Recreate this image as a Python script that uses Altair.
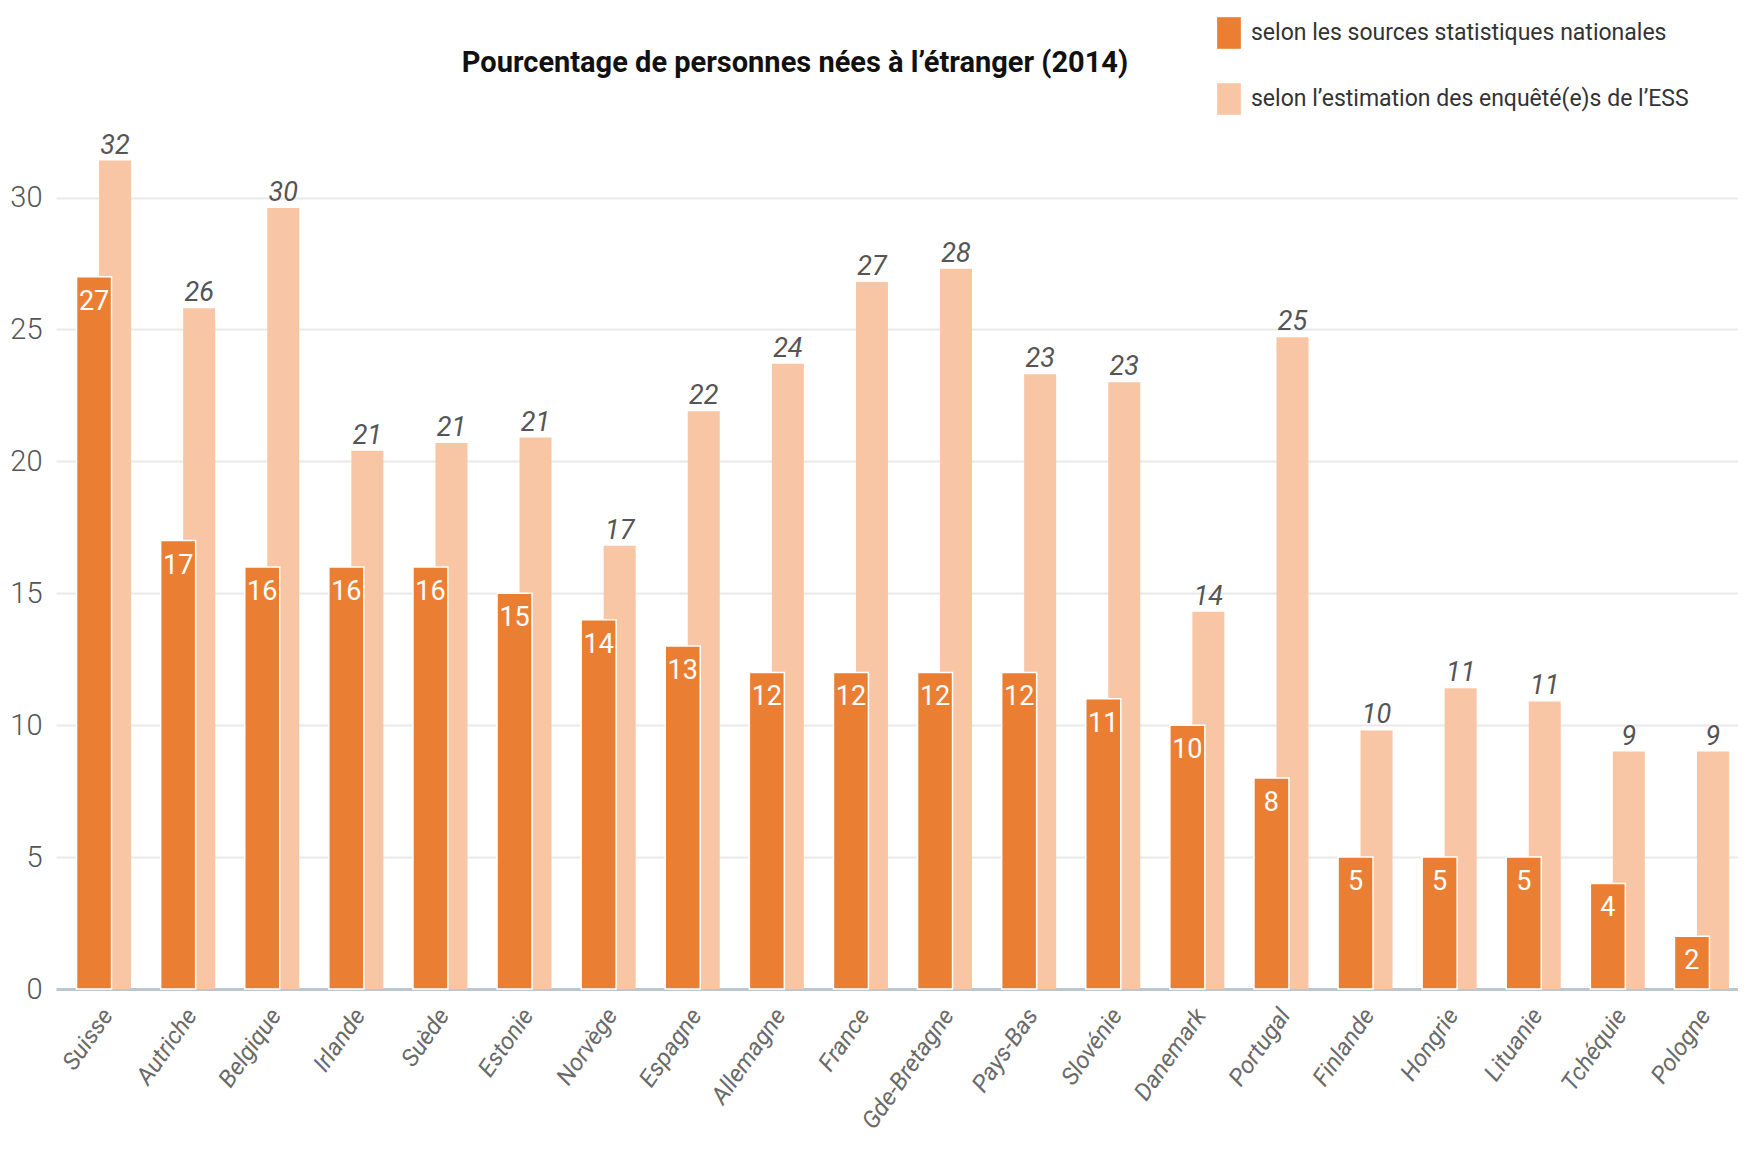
import altair as alt
import pandas as pd

pays = ["Suisse", "Autriche", "Belgique", "Irlande", "Suède", "Estonie", "Norvège",
        "Espagne", "Allemagne", "France", "Gde-Bretagne", "Pays-Bas", "Slovénie",
        "Danemark", "Portugal", "Finlande", "Hongrie", "Lituanie", "Tchéquie", "Pologne"]
nationales = [27, 17, 16, 16, 16, 15, 14, 13, 12, 12, 12, 12, 11, 10, 8, 5, 5, 5, 4, 2]
nat_labels = ["27", "17", "16", "16", "16", "15", "14", "13", "12", "12", "12", "12",
              "11", "10", "8", "5", "5", "5", "4", "2"]
ess = [31.4, 25.8, 29.6, 20.4, 20.7, 20.9, 16.8, 21.9, 23.7, 26.8, 27.3, 23.3, 23.0,
       14.3, 24.7, 9.8, 11.4, 10.9, 9.0, 9.0]
ess_labels = ["32", "26", "30", "21", "21", "21", "17", "22", "24", "27", "28", "23",
              "23", "14", "25", "10", "11", "11", "9", "9"]
y_ticks = [0, 5, 10, 15, 20, 25, 30]

serie_nat = "selon les sources statistiques nationales"
serie_ess = "selon l’estimation des enquêté(e)s de l’ESS"
titre = ["Pourcentage de personnes nées à l’étranger (2014)"]

DARK = "#EA7F33"
LIGHT = "#F8C6A5"
FONT = "Roboto, 'Liberation Sans', sans-serif"

rows = []
for p, v, l in zip(pays, nationales, nat_labels):
    rows.append({"pays": p, "serie": serie_nat, "valeur": v, "label": l})
for p, v, l in zip(pays, ess, ess_labels):
    rows.append({"pays": p, "serie": serie_ess, "valeur": v, "label": l})
df = pd.DataFrame(rows)

x = alt.X("pays:N", sort=pays,
          scale=alt.Scale(paddingInner=0, paddingOuter=0),
          axis=alt.Axis(title=None, labelAngle=-55, labelAlign="right",
                        labelBaseline="middle", labelFontSize=24,
                        labelFontStyle="italic", labelColor="#6a6a6a",
                        labelFont=FONT, labelPadding=22, labelOffset=10,
                        ticks=False, domainColor="#BCC6CF", domainWidth=3))
y = alt.Y("valeur:Q",
          scale=alt.Scale(domain=[0, 34], nice=False),
          axis=alt.Axis(title=None, values=y_ticks, domain=False, ticks=False,
                        gridColor="#E9E9E9", gridWidth=2, labelFontSize=29,
                        labelColor="#555555", labelFont=FONT, labelPadding=14,
                        labelFontWeight=300))
color = alt.Color("serie:N",
                  scale=alt.Scale(domain=[serie_nat, serie_ess], range=[DARK, LIGHT]),
                  legend=alt.Legend(title=None, orient="none", legendX=1157, legendY=-75,
                                    symbolType="M-0.75,-1H0.75V1H-0.75Z",
                                    symbolSize=1000, symbolStrokeWidth=0,
                                    labelFontSize=23, labelFont=FONT,
                                    labelColor="#333333", rowPadding=34,
                                    symbolOffset=0, labelOffset=6,
                                    labelLimit=600))

base = alt.Chart(df)

light_bars = base.transform_filter(alt.datum.serie == serie_ess).mark_bar(
    size=32, xOffset=17).encode(x=x, y=y, color=color)
dark_bars = base.transform_filter(alt.datum.serie == serie_nat).mark_bar(
    size=35, xOffset=-4, stroke="white", strokeWidth=1.5).encode(x=x, y=y, color=color)
light_text = base.transform_filter(alt.datum.serie == serie_ess).mark_text(
    xOffset=17, dy=-7, baseline="alphabetic", fontStyle="italic", fontSize=27,
    font=FONT, color="#555555").encode(x=x, y=y, text="label:N")
dark_text = base.transform_filter(alt.datum.serie == serie_nat).mark_text(
    xOffset=-4, dy=12, baseline="top", fontSize=27, font=FONT,
    color="white").encode(x=x, y=y, text="label:N")

title = alt.Chart(pd.DataFrame({"titre": titre})).mark_text(
    fontSize=29, font=FONT, fontWeight="bold", color="#111111",
    align="center", baseline="middle").encode(
    text="titre:N", x=alt.value(739), y=alt.value(-29))

chart = alt.layer(light_bars, dark_bars, light_text, dark_text, title).properties(
    width=1682, height=897,
    autosize=alt.AutoSizeParams(type="none"),
    padding={"left": 48, "top": 84, "right": 0, "bottom": 155},
).configure_view(stroke=None)

chart.save("out.html", embed_options={"renderer": "svg", "actions": False})
